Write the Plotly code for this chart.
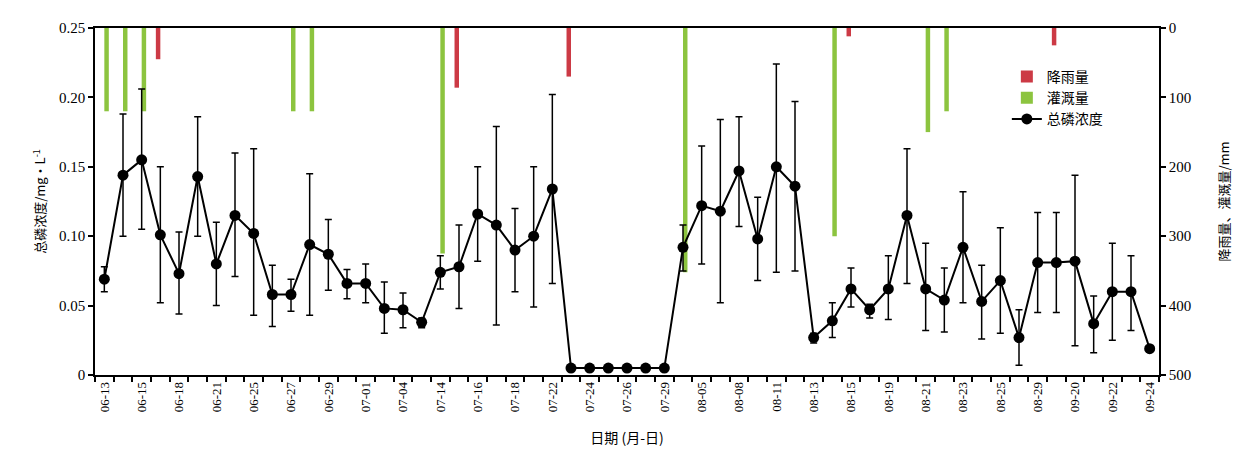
import plotly.graph_objects as go

# ---- data ----
dates = ["06-13", "06-14", "06-15", "06-16", "06-18", "06-19", "06-21", "06-23", "06-25", "06-26",
         "06-27", "06-28", "06-29", "06-30", "07-01", "07-02", "07-04", "07-05", "07-14", "07-15",
         "07-16", "07-17", "07-18", "07-20", "07-22", "07-23", "07-24", "07-25", "07-26", "07-27",
         "07-29", "08-03", "08-05", "08-06", "08-08", "08-09", "08-11", "08-12", "08-13", "08-14",
         "08-15", "08-17", "08-19", "08-20", "08-21", "08-22", "08-23", "08-24", "08-25", "08-27",
         "08-29", "09-01", "09-20", "09-21", "09-22", "09-23", "09-24"]

tp = [0.069, 0.144, 0.155, 0.101, 0.073, 0.143, 0.080, 0.115, 0.102, 0.058,
      0.058, 0.094, 0.087, 0.066, 0.066, 0.048, 0.047, 0.038, 0.074, 0.078,
      0.116, 0.108, 0.090, 0.100, 0.134, 0.005, 0.005, 0.005, 0.005, 0.005,
      0.005, 0.092, 0.122, 0.118, 0.147, 0.098, 0.150, 0.136, 0.027, 0.039,
      0.062, 0.047, 0.062, 0.115, 0.062, 0.054, 0.092, 0.053, 0.068, 0.027,
      0.081, 0.081, 0.082, 0.037, 0.060, 0.060, 0.019]

tp_err_plus = [0.009, 0.044, 0.051, 0.049, 0.030, 0.043, 0.030, 0.045, 0.061, 0.021,
               0.011, 0.051, 0.025, 0.010, 0.014, 0.019, 0.012, 0.003, 0.012, 0.030,
               0.034, 0.071, 0.030, 0.050, 0.068, 0, 0, 0, 0, 0,
               0, 0.016, 0.043, 0.066, 0.039, 0.030, 0.074, 0.061, 0.003, 0.013,
               0.015, 0.004, 0.024, 0.048, 0.033, 0.023, 0.040, 0.026, 0.038, 0.020,
               0.036, 0.036, 0.062, 0.020, 0.035, 0.026, 0]

tp_err_minus = [0.009, 0.044, 0.050, 0.049, 0.029, 0.043, 0.030, 0.044, 0.059, 0.023,
                0.012, 0.051, 0.026, 0.011, 0.014, 0.018, 0.013, 0.004, 0.012, 0.030,
                0.034, 0.072, 0.030, 0.051, 0.068, 0, 0, 0, 0, 0,
                0, 0.017, 0.042, 0.066, 0.040, 0.030, 0.076, 0.061, 0.004, 0.012,
                0.013, 0.006, 0.022, 0.049, 0.030, 0.023, 0.040, 0.027, 0.038, 0.020,
                0.036, 0.036, 0.061, 0.021, 0.035, 0.028, 0]

rain = {"06-16": 45, "07-15": 86, "07-23": 70, "08-15": 12, "09-01": 25}
irrigation = {"06-13": 120, "06-14": 120, "06-15": 120, "06-27": 120, "06-28": 120,
              "07-14": 325, "08-03": 352, "08-14": 300, "08-21": 150, "08-22": 120}

left_ticks = [0, 0.05, 0.10, 0.15, 0.20, 0.25]
left_ticktext = ["0", "0.05", "0.10", "0.15", "0.20", "0.25"]
right_ticks = [0, 100, 200, 300, 400, 500]

# sample index positions (evenly spaced sampling slots, as in the original)
n = len(dates)
pos = list(range(n))
shown_pos = pos[::2]
shown_dates = dates[::2]

rain_vals = [rain.get(d) for d in dates]
irr_vals = [irrigation.get(d) for d in dates]

FONT = "Liberation Serif, Times New Roman, Noto Sans CJK SC"
CJK = "Noto Sans CJK SC"
RED = "#cc3a45"
GREEN = "#8cc43f"

fig = go.Figure()
fig.add_trace(go.Bar(x=pos, y=rain_vals, name="降雨量", marker_color=RED,
                     marker_line_width=0, yaxis="y", customdata=dates))
fig.add_trace(go.Bar(x=pos, y=irr_vals, name="灌溉量", marker_color=GREEN,
                     marker_line_width=0, yaxis="y", customdata=dates))
fig.add_trace(go.Scatter(
    x=pos, y=tp, name="总磷浓度", mode="lines+markers", yaxis="y2", customdata=dates,
    line=dict(color="black", width=2),
    marker=dict(color="black", size=11),
    error_y=dict(type="data", symmetric=False, array=tp_err_plus,
                 arrayminus=tp_err_minus, color="black", thickness=1.5, width=3.5),
))

# the page body has an 8px margin; margins below compensate so the plot area
# lands at x 95..1159, y 20..375 in the window
fig.update_layout(
    width=1247, height=462,
    margin=dict(l=87, r=96, t=12, b=95),
    paper_bgcolor="white", plot_bgcolor="white",
    font=dict(family=FONT, size=14, color="black"),
    barmode="group", bargap=0.52, bargroupgap=0,
    showlegend=True,
    legend=dict(x=0.857, y=0.905, xanchor="left", yanchor="top",
                bgcolor="rgba(0,0,0,0)", font=dict(size=14, family=CJK),
                tracegroupgap=2),
    xaxis=dict(
        range=[-0.5, n - 0.5],
        tickmode="array", tickvals=shown_pos, ticktext=shown_dates,
        ticks="outside", ticklen=0, tickcolor="black", tickwidth=0,
        tickangle=-90, tickfont=dict(size=13),
        minor=dict(tickmode="linear", tick0=0.5, dtick=1, ticks="outside",
                   ticklen=5, tickcolor="black", tickwidth=1.5, showgrid=False),
        showline=True, linecolor="black", linewidth=1.5, mirror=True,
        showgrid=False, zeroline=False,
        title=dict(text="日期 (月-日)", font=dict(size=14, family=CJK), standoff=22),
    ),
    yaxis=dict(
        side="right", range=[500, 0],
        tickmode="array", tickvals=right_ticks,
        ticks="outside", ticklen=5, tickcolor="black", tickwidth=1.5,
        showline=True, linecolor="black", linewidth=1.5,
        showgrid=False, zeroline=False,
        tickfont=dict(size=15),
        title=dict(text="降雨量、灌溉量/mm", font=dict(size=13, family=CJK), standoff=30),
    ),
    yaxis2=dict(
        overlaying="y", side="left", range=[0, 0.25],
        tickmode="array", tickvals=left_ticks, ticktext=left_ticktext,
        ticks="outside", ticklen=5, tickcolor="black", tickwidth=1.5,
        showline=True, linecolor="black", linewidth=1.5,
        showgrid=False, zeroline=False,
        tickfont=dict(size=15),
        title=dict(text="总磷浓度/mg·L<sup>-1</sup>", font=dict(size=13, family=CJK), standoff=10),
    ),
)

fig.write_html("out.html")
